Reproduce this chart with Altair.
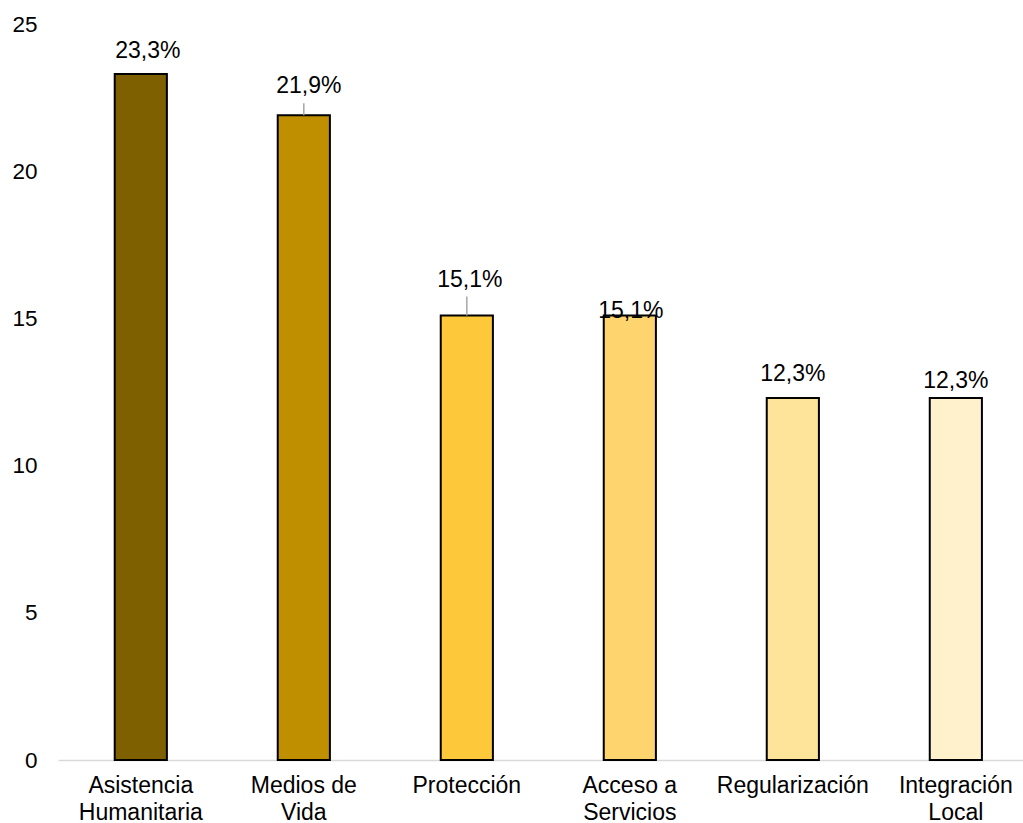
import altair as alt
import pandas as pd

categories = [
    "Asistencia\nHumanitaria",
    "Medios de\nVida",
    "Protección",
    "Acceso a\nServicios",
    "Regularización",
    "Integración\nLocal",
]
values = [23.3, 21.9, 15.1, 15.1, 12.3, 12.3]
labels = ["23,3%", "21,9%", "15,1%", "15,1%", "12,3%", "12,3%"]
colors = ["#7F6000", "#BF8F00", "#FDC83A", "#FDD46D", "#FEE49B", "#FFF1CC"]

# label placement tweaks (pixels relative to bar top / bar centre)
label_gap_px = [16, 22, 28, -3, 17, 10]
label_dx_px = [7, 5, 3, 1, 0, 0]
leader_px = [0, 12, 19, 0, 0, 0]

W, H = 965, 736
YMAX = 25

df = pd.DataFrame({
    "cat": categories,
    "value": values,
    "label": labels,
    "gap": label_gap_px,
    "ldx": label_dx_px,
    "leader": leader_px,
})

x = alt.X(
    "cat:N",
    sort=categories,
    scale=alt.Scale(paddingInner=0.68, paddingOuter=0.3, align=0.58),
    axis=alt.Axis(
        title=None,
        labelAngle=0,
        labelExpr="split(datum.value, '\\n')",
        labelFont="Liberation Sans",
        labelFontSize=23,
        labelColor="#000000",
        labelLineHeight=27,
        labelBaseline="top",
        labelPadding=14,
        ticks=False,
        tickSize=0,
        domain=True,
        domainColor="#D9D9D9",
        domainWidth=1.5,
        grid=False,
    ),
)

y_scale = alt.Scale(domain=[0, YMAX], nice=False)

bars = alt.Chart(df).mark_bar(stroke="#000000", strokeWidth=2).encode(
    x=x,
    y=alt.Y(
        "value:Q",
        scale=y_scale,
        axis=alt.Axis(
            title=None,
            values=[0, 5, 10, 15, 20, 25],
            labelFont="Liberation Sans",
            labelFontSize=22.5,
            labelColor="#000000",
            labelPadding=21,
            ticks=False,
            tickSize=0,
            domain=False,
            grid=False,
        ),
    ),
    color=alt.Color("cat:N", sort=categories,
                    scale=alt.Scale(domain=categories, range=colors), legend=None),
)

text = alt.Chart(df).transform_calculate(
    label_y=f"datum.value + datum.gap * {YMAX} / {H}"
).mark_text(
    font="Liberation Sans", fontSize=23, color="#000000",
    baseline="alphabetic", align="center",
    dx=alt.ExprRef(expr="datum.ldx"),
).encode(
    x=alt.X("cat:N", sort=categories),
    y=alt.Y("label_y:Q", scale=y_scale),
    text="label:N",
)

leaders = alt.Chart(df).transform_filter("datum.leader > 0").transform_calculate(
    ltop=f"datum.value + datum.leader * {YMAX} / {H}"
).mark_rule(color="#A6A6A6", strokeWidth=1.5).encode(
    x=alt.X("cat:N", sort=categories),
    y=alt.Y("value:Q", scale=y_scale),
    y2="ltop:Q",
)

chart = alt.layer(bars, leaders, text).properties(
    width=W, height=H,
    autosize=alt.AutoSizeParams(type="none"),
    padding={"left": 58, "top": 24, "right": 0, "bottom": 63},
).configure(background="white").configure_view(stroke="transparent", strokeWidth=0)

chart.save("out.html", embed_options={"renderer": "svg", "actions": False})
